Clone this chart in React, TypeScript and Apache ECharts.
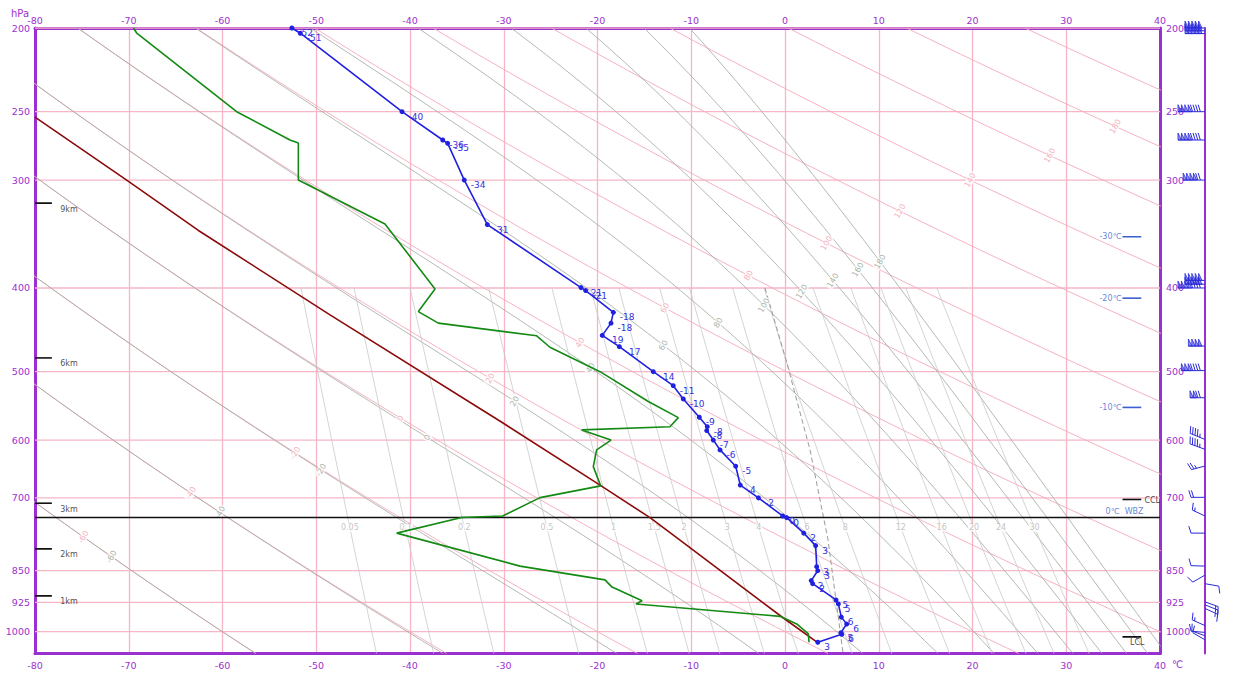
import React, { useEffect, useRef } from 'react';
import * as echarts from 'echarts';

const LN = Math.log;
const P_TOP = 200;
const P_BOT = 1060;

// ---- axis ticks ----
const isobars = [200, 250, 300, 400, 500, 600, 700, 850, 925, 1000];

// ---- temperature profile (bottom -> top) ----
const tempP = [1028.6, 1007, 1002.7, 980, 962, 928.8, 919, 880, 872.8, 850, 841, 795, 769, 737.9, 734.6, 700, 676.5, 643.3, 616, 600, 585, 579, 564.6, 537.7, 519, 500, 467.8, 453.9, 439.3, 426.8, 402.8, 399.6, 337.8, 300, 272, 269.6, 250, 202.8, 200];
const tempT = [3.5, 6.05, 5.97, 6.58, 6.01, 5.69, 5.44, 2.95, 2.8, 3.49, 3.38, 3.27, 2.0, 0.18, -0.25, -2.83, -4.77, -5.26, -6.93, -7.65, -8.35, -8.29, -9.14, -10.85, -11.92, -14.05, -17.67, -19.49, -18.56, -18.31, -21.26, -21.76, -31.75, -34.21, -35.98, -36.51, -40.85, -51.7, -52.6];

// ---- dew point profile ----
const dewP = [1028.6, 1006, 979.6, 960, 928.8, 921, 888, 871, 839.7, 769, 737.5, 734.6, 699.6, 678, 644, 616, 600, 584, 579, 565.2, 541.4, 500, 468.5, 454.4, 439.3, 426, 401, 337.3, 300, 271.7, 269.6, 250, 202.7, 200];
const dewT = [2.56, 2.49, 1.25, -0.53, -15.89, -15.25, -18.45, -19.2, -28.27, -41.42, -34.49, -30.11, -26.13, -19.66, -20.45, -20.09, -18.56, -21.69, -12.27, -11.38, -14.58, -19.73, -25.07, -26.49, -36.98, -39.11, -37.33, -42.67, -51.91, -51.91, -52.8, -58.49, -69.15, -69.51];

// ---- parcel (state) curve ----
const parcelP = [1028.6, 963.6, 783.4, 738, 676.5, 573.3, 429.7, 342.9, 300, 253.6];
const parcelT = [3.41, -0.21, -11.2, -14.4, -19.73, -30.08, -48.53, -62.61, -70.22, -80];

// ---- dashed reference curve ----
const dashP = [400, 484.6, 616, 783, 1059];
const dashT = [-2.13, 0.11, 2.67, 4.59, 6.19];

// ---- dry adiabats (theta, degC) ----
const dryTheta = [-60, -40, -20, 0, 20, 40, 60, 80, 100, 120, 140, 160, 180, 200];
const dryLabelTheta = [-60, -40, -20, 0, 20, 40, 60, 80, 100, 120, 140, 160, 180];
const dryLabelP = [777, 691, 621, 566, 509, 463, 422, 387, 355, 326, 300, 281, 260];

// ---- moist adiabats (theta-se, degC) ----
const moistTheta = [-60, -40, -20, 0, 20, 40, 60, 80, 100, 120, 140, 160, 180];
const moistLabelP = [819, 728, 650, 596, 541, 495, 466, 439, 419, 404, 392, 381, 373];

// ---- mixing ratio lines (g/kg) ----
const mixRatios = [0.05, 0.1, 0.2, 0.5, 1, 1.5, 2, 3, 4, 6, 8, 12, 16, 20, 24, 30];
const mixLabels = ['0.05', '0.1', '0.2', '0.5', '1', '1.5', '2', '3', '4', '6', '8', '12', '16', '20', '24', '30'];
const MIX_TOP = 400;
const MIX_LABEL_P = 758;

// ---- height markers ----
const heightLabels = ['9km', '6km', '3km', '2km', '1km'];
const heightP = [319, 482, 710, 802, 909];

// ---- level markers on the right ----
const isoTempLabels = ['-30℃', '-20℃', '-10℃'];
const isoTempP = [349, 411, 550];
const WBZ_P = 737.5;
const CCL_P = 703;
const LCL_P = 1014;

// ---- wind barbs ----
const windP = [200, 201.5, 203, 250, 269.6, 300, 392, 396, 400, 467, 498.6, 536, 599, 615, 643, 699, 734.6, 769, 839.7, 860, 880, 923.6, 931, 940, 984, 1002, 1011, 1022];
const windDir = [270, 270, 270, 270, 270, 270, 270, 270, 270, 270, 270, 270, 292, 290, 255, 270, 295, 270, 272, 240, 100, 110, 112, 115, 294, 275, 290, 300];
const windSpd = [250, 250, 250, 240, 240, 220, 250, 250, 240, 200, 190, 120, 45, 45, 25, 20, 15, 10, 10, 10, 10, 15, 15, 15, 15, 10, 10, 10];

const PURPLE = '#9b30d0';
const PINK = '#f6b6c6';
const BLUE = '#2020e0';
const FONT = 'DejaVu Sans';

// curve sampling pressures for thermodynamic background lines
const SAMPLE_P = Array.from({ length: 48 }, (_, i) => P_TOP * Math.pow(P_BOT / P_TOP, i / 47));

function dryT(thC: number, p: number) {
  return (thC + 273.15) * Math.pow(p / 1000, 0.2857) - 273.15;
}
function thetaSe(tc: number, p: number) {
  const es = 6.112 * Math.exp((17.67 * tc) / (tc + 243.5));
  if (es >= p * 0.9) return 1e9;
  const rs = (0.622 * es) / (p - es);
  const T = tc + 273.15;
  return T * Math.pow(1000 / p, 0.2857) * Math.exp((2.5e6 * rs) / (1004 * T));
}
function moistT(thC: number, p: number) {
  const target = thC + 273.15;
  let lo = -160, hi = 70;
  for (let i = 0; i < 60; i++) {
    const mid = (lo + hi) / 2;
    if (thetaSe(mid, p) > target) hi = mid; else lo = mid;
  }
  return (lo + hi) / 2;
}
function mixT(w: number, p: number) {
  const e = (w * p) / (622 + w);
  const a = Math.log(e / 6.112);
  if (e >= 6.112) return (243.5 * a) / (17.67 - a);
  return (272.62 * a) / (22.46 - a);
}

function bgLine(data: number[][], color: string, width: number, type: any = 'solid', z = 1) {
  return {
    type: 'line', data, showSymbol: false, symbol: 'none', silent: true, z,
    xAxisIndex: 0, yAxisIndex: 0,
    lineStyle: { color, width, type },
  };
}

function textSeries(items: { x: number; p: number; text: string; dx: number; dy: number; color: string; size?: number; rotate?: number; bg?: boolean }[], z = 5) {
  return {
    type: 'scatter', xAxisIndex: 0, yAxisIndex: 0, silent: true, clip: false, z,
    symbolSize: 0, itemStyle: { color: 'rgba(0,0,0,0)' },
    data: items.map((it) => ({
      value: [it.x, LN(it.p)],
      label: {
        show: true, position: 'inside', formatter: it.text, offset: [it.dx, it.dy],
        color: it.color, fontSize: it.size || 9, fontFamily: FONT, rotate: it.rotate || 0,
        backgroundColor: it.bg ? '#ffffff' : 'transparent', padding: it.bg ? [0, 1] : 0,
      },
    })),
  };
}

function renderBarb(params: any, api: any) {
  const x = api.value(0), y = api.value(1), spd = api.value(2), dir = api.value(3);
  const pt = api.coord([x, y]);
  const bx = pt[0], by = pt[1];
  const d = (dir * Math.PI) / 180;
  const ux = Math.sin(d), uy = -Math.cos(d);
  const fx = -uy, fy = ux;
  let rest = spd;
  const n50 = Math.floor(rest / 50); rest -= n50 * 50;
  const n10 = Math.floor(rest / 10); rest -= n10 * 10;
  const n5 = rest >= 5 ? 1 : 0;
  const PW = 3.4, BS = 2.6, FL = 7;
  const L = Math.max(14, n50 * PW + (n10 + n5) * BS + 3);
  const col = '#2a2ad8';
  const children: any[] = [];
  children.push({ type: 'line', shape: { x1: bx, y1: by, x2: bx + ux * L, y2: by + uy * L }, style: { stroke: col, lineWidth: 1 } });
  let s = L;
  for (let i = 0; i < n50; i++) {
    const p1 = [bx + ux * s, by + uy * s];
    const p2 = [bx + ux * s + fx * FL, by + uy * s + fy * FL];
    const p3 = [bx + ux * (s - PW), by + uy * (s - PW)];
    children.push({ type: 'polygon', shape: { points: [p1, p2, p3] }, style: { fill: 'rgba(60,60,230,0.55)', stroke: col, lineWidth: 0.8 } });
    s -= PW;
  }
  if (n50 > 0 && n10 + n5 > 0) s -= 1;
  for (let i = 0; i < n10; i++) {
    children.push({ type: 'line', shape: { x1: bx + ux * s, y1: by + uy * s, x2: bx + ux * (s + 2.2) + fx * FL, y2: by + uy * (s + 2.2) + fy * FL }, style: { stroke: col, lineWidth: 1 } });
    s -= BS;
  }
  if (n5) {
    children.push({ type: 'line', shape: { x1: bx + ux * s, y1: by + uy * s, x2: bx + ux * (s + 1.1) + fx * FL * 0.5, y2: by + uy * (s + 1.1) + fy * FL * 0.5 }, style: { stroke: col, lineWidth: 1 } });
  }
  return { type: 'group', children };
}

export default function App() {
  const ref = useRef<HTMLDivElement>(null);
  useEffect(() => {
    if (!ref.current) return;
    const chart = echarts.init(ref.current, null, { renderer: 'svg' });
    const series: any[] = [];

    // isobars
    isobars.forEach((p) => series.push(bgLine([[-80, LN(p)], [40, LN(p)]], PINK, 1.3)));
    // dry adiabats
    dryTheta.forEach((th) => series.push(bgLine(SAMPLE_P.map((p) => [dryT(th, p), LN(p)]), '#f4a9bb', 0.9)));
    // moist adiabats
    moistTheta.forEach((th) => series.push(bgLine(SAMPLE_P.map((p) => [moistT(th, p), LN(p)]), '#9fa89f', 0.8)));
    // mixing ratio lines
    const mixPs = SAMPLE_P.filter((p) => p >= MIX_TOP);
    mixRatios.forEach((w) => series.push(bgLine([[mixT(w, MIX_TOP), LN(MIX_TOP)], ...mixPs.map((p) => [mixT(w, p), LN(p)])], '#c9c9c9', 0.8)));
    // dashed
    series.push(bgLine(dashP.map((p, i) => [dashT[i], LN(p)]), '#9a9a9a', 1, [5, 3], 2));

    // background labels
    series.push(textSeries(dryLabelTheta.map((th, i) => ({ x: dryT(th, dryLabelP[i]), p: dryLabelP[i], text: String(th), dx: 0, dy: 0, color: '#f19aae', size: 8, rotate: 60, bg: true })), 3));
    series.push(textSeries(moistTheta.map((th, i) => ({ x: moistT(th, moistLabelP[i]), p: moistLabelP[i], text: String(th), dx: 0, dy: 0, color: '#8fa08f', size: 8, rotate: 60, bg: true })), 3));
    series.push(textSeries(mixRatios.map((w, i) => ({ x: mixT(w, MIX_LABEL_P), p: MIX_LABEL_P, text: mixLabels[i], dx: 0, dy: 0, color: '#b4b4b4', size: 8, bg: true })), 3));

    // WBZ line
    series.push(bgLine([[-80, LN(WBZ_P)], [40, LN(WBZ_P)]], '#111111', 1.6, 'solid', 6));
    // height markers
    heightP.forEach((p) => series.push(bgLine([[-80, LN(p)], [-78.2, LN(p)]], '#111111', 1.6, 'solid', 6)));
    series.push(textSeries(heightLabels.map((t, i) => ({ x: -80, p: heightP[i], text: t, dx: 34, dy: 6, color: '#222222', size: 8 })), 6));
    // right markers
    isoTempP.forEach((p) => series.push(bgLine([[36, LN(p)], [38, LN(p)]], '#3b5fcf', 1.6, 'solid', 6)));
    series.push(textSeries(isoTempLabels.map((t, i) => ({ x: 36, p: isoTempP[i], text: t, dx: -12, dy: 0, color: '#3b5fcf', size: 8 })), 6));
    series.push(bgLine([[36, LN(CCL_P)], [38, LN(CCL_P)]], '#111111', 1.6, 'solid', 6));
    series.push(bgLine([[36, LN(LCL_P)], [38, LN(LCL_P)]], '#111111', 1.6, 'solid', 6));
    series.push(textSeries([
      { x: 38, p: CCL_P, text: 'CCL', dx: 11, dy: 1, color: '#111111', size: 8 },
      { x: 38, p: LCL_P, text: 'LCL', dx: -4, dy: 6, color: '#111111', size: 8 },
      { x: 36, p: WBZ_P, text: '0℃  WBZ', dx: 2, dy: -6, color: '#3b5fcf', size: 8 },
    ], 6));

    // parcel
    series.push({
      type: 'line', xAxisIndex: 0, yAxisIndex: 0, z: 8, silent: true, symbol: 'none', showSymbol: false,
      data: parcelP.map((p, i) => [parcelT[i], LN(p)]),
      lineStyle: { color: '#8b0a0a', width: 1.6 },
    });
    // dew point
    series.push({
      type: 'line', xAxisIndex: 0, yAxisIndex: 0, z: 9, silent: true, symbol: 'none', showSymbol: false,
      data: dewP.map((p, i) => [dewT[i], LN(p)]),
      lineStyle: { color: '#138a13', width: 1.6 },
    });
    // temperature
    series.push({
      type: 'line', xAxisIndex: 0, yAxisIndex: 0, z: 10, silent: true,
      data: tempP.map((p, i) => [tempT[i], LN(p)]),
      symbol: 'circle', symbolSize: 5, showSymbol: true,
      itemStyle: { color: BLUE },
      lineStyle: { color: BLUE, width: 1.6 },
      label: {
        show: true, position: 'right', distance: 4, offset: [0, 5], color: '#3030e0', fontSize: 9, fontFamily: FONT,
        formatter: (pp: any) => String(Math.trunc(pp.value[0])),
      },
    });

    // wind barbs
    series.push({
      type: 'custom', xAxisIndex: 2, yAxisIndex: 2, silent: true, clip: false, z: 10,
      renderItem: renderBarb,
      encode: { x: 0, y: 1 },
      data: windP.map((p, i) => [1, LN(p), windSpd[i], windDir[i]]),
    });

    const yLab = { customValues: isobars.map(LN), formatter: (v: number) => String(Math.round(Math.exp(v))), color: PURPLE, fontSize: 9.5, fontFamily: FONT };

    chart.setOption({
      animation: false,
      textStyle: { fontFamily: FONT },
      grid: [
        { left: 35, right: 73, top: 28, bottom: 28.5 },
        { left: 1150, right: 28, top: 28, bottom: 28.5 },
      ],
      xAxis: [
        {
          type: 'value', gridIndex: 0, position: 'bottom', min: -80, max: 40, interval: 10,
          axisLine: { show: true, onZero: false, lineStyle: { color: PURPLE, width: 3 } },
          axisTick: { show: false },
          axisLabel: { color: PURPLE, fontSize: 9.5, margin: 7, fontFamily: FONT },
          splitLine: { show: true, lineStyle: { color: PINK, width: 1.3 } },
        },
        {
          type: 'value', gridIndex: 0, position: 'top', min: -80, max: 40, interval: 10,
          axisLine: { show: true, onZero: false, lineStyle: { color: PURPLE, width: 3 } },
          axisTick: { show: false },
          axisLabel: { color: PURPLE, fontSize: 9.5, margin: 3, fontFamily: FONT },
          splitLine: { show: false },
        },
        { type: 'value', gridIndex: 1, min: 0, max: 1, show: false },
      ],
      yAxis: [
        {
          type: 'value', gridIndex: 0, position: 'left', inverse: true, min: LN(P_TOP), max: LN(P_BOT),
          axisLine: { show: true, onZero: false, lineStyle: { color: PURPLE, width: 3 } },
          axisTick: { show: false },
          axisLabel: { ...yLab, margin: 5 },
          splitLine: { show: false },
        },
        {
          type: 'value', gridIndex: 0, position: 'right', inverse: true, min: LN(P_TOP), max: LN(P_BOT),
          axisLine: { show: true, onZero: false, lineStyle: { color: PURPLE, width: 3 } },
          axisTick: { show: false },
          axisLabel: { ...yLab, margin: 6 },
          splitLine: { show: false },
        },
        {
          type: 'value', gridIndex: 1, position: 'right', inverse: true, min: LN(P_TOP), max: LN(P_BOT),
          axisLine: { show: true, onZero: false, lineStyle: { color: PURPLE, width: 2 } },
          axisTick: { show: false }, axisLabel: { show: false }, splitLine: { show: false },
        },
      ],
      graphic: [
        { type: 'text', left: 11, top: 8, style: { text: 'hPa', fill: PURPLE, fontSize: 10, fontFamily: FONT } },
        { type: 'text', left: 1172, top: 659, style: { text: '℃', fill: PURPLE, fontSize: 10, fontFamily: FONT } },
      ],
      series,
    });
    return () => chart.dispose();
  }, []);
  return <div ref={ref} style={{ position: 'fixed', left: 0, top: 0, width: 1233, height: 682, background: '#fff' }} />;
}
